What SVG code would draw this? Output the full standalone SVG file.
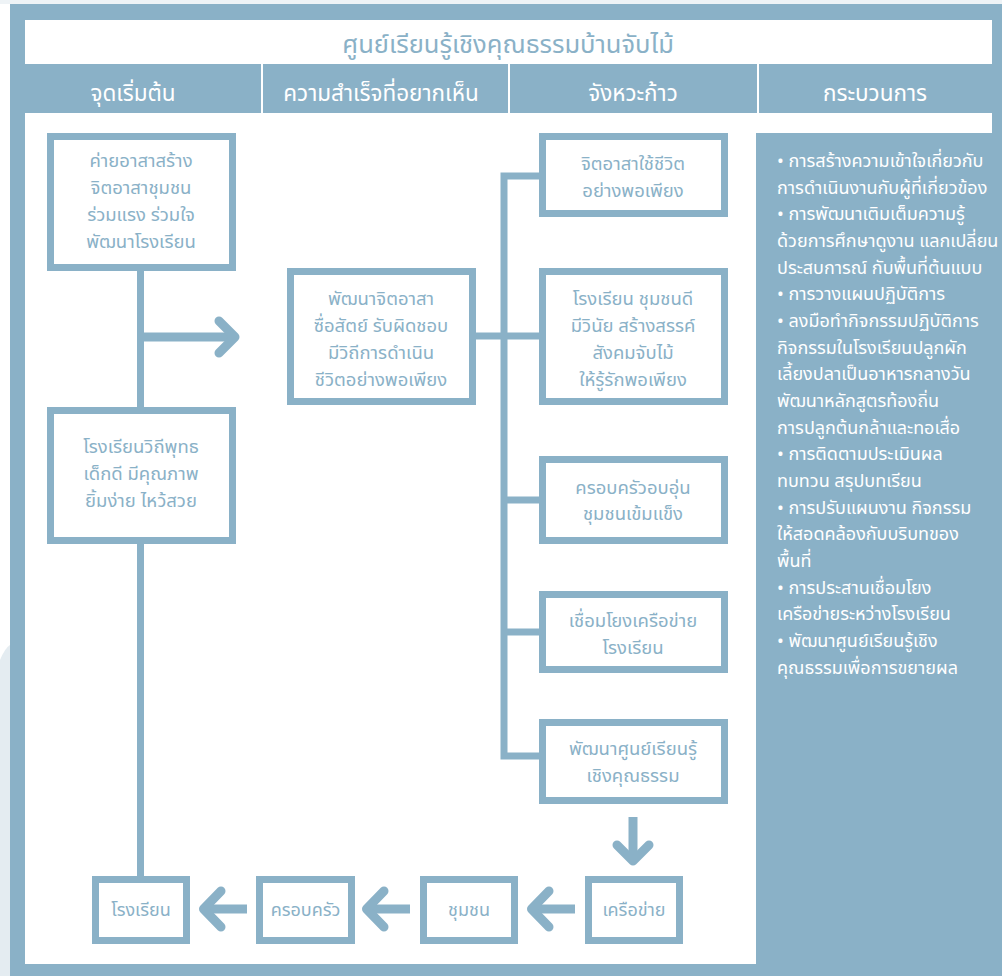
<svg xmlns="http://www.w3.org/2000/svg" width="1002" height="976" viewBox="0 0 1002 976">
<style>
text{font-family:"Noto Sans Thai","Noto Sans","DejaVu Sans",sans-serif}
.box{fill:#ffffff;stroke:#8ab1c7;stroke-width:7}
.bt{fill:#8ab1c7;font-size:18.5px;text-anchor:middle}
.bt2{fill:#8ab1c7;font-size:18px;text-anchor:middle}
.hd{fill:#ffffff;font-size:22.5px;text-anchor:middle}
.pt{fill:#ffffff;font-size:18px}
.ln{fill:none;stroke:#8ab1c7;stroke-width:7}
.ar{fill:none;stroke:#8ab1c7;stroke-width:9;stroke-linecap:round;stroke-linejoin:round}
.al{fill:none;stroke:#8ab1c7;stroke-width:9}
</style>
<rect x="0" y="0" width="1002" height="976" fill="#ffffff"/>
<path d="M0 660 Q5 648 10 645 L10 976 L0 976 Z" fill="#e4ecf1"/>
<rect x="0" y="0" width="1002" height="4" fill="#eef3f6"/>
<g id="frame">
<rect x="10" y="4" width="992" height="972" fill="#8ab1c7"/>
<rect x="25" y="20" width="967" height="44" fill="#ffffff"/>
<rect x="25" y="113" width="967" height="851" fill="#ffffff"/>
<rect x="756" y="133" width="246" height="843" fill="#8ab1c7"/>
<line x1="262" y1="64" x2="262" y2="113" stroke="#ffffff" stroke-width="2"/>
<line x1="509" y1="64" x2="509" y2="113" stroke="#ffffff" stroke-width="2"/>
<line x1="758" y1="64" x2="758" y2="113" stroke="#ffffff" stroke-width="2"/>
<text x="508" y="53" fill="#8ab1c7" font-size="25.5" text-anchor="middle">ศูนย์เรียนรู้เชิงคุณธรรมบ้านจับไม้</text>
<text class="hd" x="133" y="101">จุดเริ่มต้น</text>
<text class="hd" x="381" y="101">ความสำเร็จที่อยากเห็น</text>
<text class="hd" x="633" y="101">จังหวะก้าว</text>
<text class="hd" x="875" y="101">กระบวนการ</text>
</g>
<g id="connectors">
<line class="ln" x1="140.5" y1="271" x2="140.5" y2="407"/>
<line class="ln" x1="140.5" y1="544" x2="140.5" y2="876"/>
<line class="al" x1="140" y1="337" x2="234" y2="337"/>
<path class="ar" d="M219 321 L235 337 L219 353"/>
<line class="ln" x1="476" y1="336" x2="539" y2="336"/>
<polyline class="ln" points="539,176 504,176 504,756 539,756"/>
<line class="ln" x1="504" y1="500" x2="539" y2="500"/>
<line class="ln" x1="504" y1="632" x2="539" y2="632"/>
<line class="al" x1="633" y1="817" x2="633" y2="860"/>
<path class="ar" d="M617 845 L633 861 L649 845"/>
<line class="al" x1="247" y1="909" x2="206" y2="909"/>
<path class="ar" d="M221 891 L203.5 909 L221 927"/>
<line class="al" x1="410" y1="909" x2="369" y2="909"/>
<path class="ar" d="M384 891 L366.5 909 L384 927"/>
<line class="al" x1="575" y1="909" x2="534" y2="909"/>
<path class="ar" d="M549 891 L531.5 909 L549 927"/>
</g>
<g id="node-camp">
<rect class="box" x="50.5" y="136.5" width="182" height="131"/>
<text class="bt" x="141" y="167">ค่ายอาสาสร้าง</text>
<text class="bt" x="141" y="194">จิตอาสาชุมชน</text>
<text class="bt" x="141" y="221">ร่วมแรง ร่วมใจ</text>
<text class="bt" x="141" y="248">พัฒนาโรงเรียน</text>
</g>
<g id="node-buddhist">
<rect class="box" x="50.5" y="410.5" width="182" height="130"/>
<text class="bt" x="141" y="453">โรงเรียนวิถีพุทธ</text>
<text class="bt" x="141" y="480">เด็กดี มีคุณภาพ</text>
<text class="bt" x="141" y="507">ยิ้มง่าย ไหว้สวย</text>
</g>
<g id="node-success">
<rect class="box" x="290.5" y="271.5" width="182" height="130"/>
<text class="bt" x="381" y="305">พัฒนาจิตอาสา</text>
<text class="bt" x="381" y="332">ซื่อสัตย์ รับผิดชอบ</text>
<text class="bt" x="381" y="359">มีวิถีการดำเนิน</text>
<text class="bt" x="381" y="386">ชีวิตอย่างพอเพียง</text>
</g>
<g id="node-step1">
<rect class="box" x="542.5" y="136.5" width="182" height="77"/>
<text class="bt" x="633" y="170">จิตอาสาใช้ชีวิต</text>
<text class="bt" x="633" y="197">อย่างพอเพียง</text>
</g>
<g id="node-step2">
<rect class="box" x="542.5" y="271.5" width="182" height="130"/>
<text class="bt" x="633" y="305">โรงเรียน ชุมชนดี</text>
<text class="bt" x="633" y="332">มีวินัย สร้างสรรค์</text>
<text class="bt" x="633" y="359">สังคมจับไม้</text>
<text class="bt" x="633" y="386">ให้รู้รักพอเพียง</text>
</g>
<g id="node-step3">
<rect class="box" x="542.5" y="459.5" width="182" height="81"/>
<text class="bt" x="633" y="494">ครอบครัวอบอุ่น</text>
<text class="bt" x="633" y="520">ชุมชนเข้มแข็ง</text>
</g>
<g id="node-step4">
<rect class="box" x="542.5" y="594.5" width="182" height="75"/>
<text class="bt" x="633" y="627">เชื่อมโยงเครือข่าย</text>
<text class="bt" x="633" y="654">โรงเรียน</text>
</g>
<g id="node-step5">
<rect class="box" x="542.5" y="722.5" width="182" height="78"/>
<text class="bt" x="633" y="755">พัฒนาศูนย์เรียนรู้</text>
<text class="bt" x="633" y="782">เชิงคุณธรรม</text>
</g>
<g id="node-school">
<rect class="box" x="95.5" y="879.5" width="91" height="61"/>
<text class="bt2" x="141" y="916">โรงเรียน</text>
</g>
<g id="node-family">
<rect class="box" x="259.5" y="879.5" width="92" height="61"/>
<text class="bt2" x="305.5" y="916">ครอบครัว</text>
</g>
<g id="node-community">
<rect class="box" x="423.5" y="879.5" width="91" height="61"/>
<text class="bt2" x="469" y="916">ชุมชน</text>
</g>
<g id="node-network">
<rect class="box" x="588.5" y="879.5" width="91" height="61"/>
<text class="bt2" x="634" y="916">เครือข่าย</text>
</g>
<g id="node-process">
<text class="pt" x="777" y="167">• การสร้างความเข้าใจเกี่ยวกับ</text>
<text class="pt" x="777" y="194">การดำเนินงานกับผู้ที่เกี่ยวข้อง</text>
<text class="pt" x="777" y="220">• การพัฒนาเติมเต็มความรู้</text>
<text class="pt" x="777" y="247">ด้วยการศึกษาดูงาน แลกเปลี่ยน</text>
<text class="pt" x="777" y="274">ประสบการณ์ กับพื้นที่ต้นแบบ</text>
<text class="pt" x="777" y="300">• การวางแผนปฏิบัติการ</text>
<text class="pt" x="777" y="327">• ลงมือทำกิจกรรมปฏิบัติการ</text>
<text class="pt" x="777" y="354">กิจกรรมในโรงเรียนปลูกผัก</text>
<text class="pt" x="777" y="380">เลี้ยงปลาเป็นอาหารกลางวัน</text>
<text class="pt" x="777" y="407">พัฒนาหลักสูตรท้องถิ่น</text>
<text class="pt" x="777" y="434">การปลูกต้นกล้าและทอเสื่อ</text>
<text class="pt" x="777" y="460">• การติดตามประเมินผล</text>
<text class="pt" x="777" y="487">ทบทวน สรุปบทเรียน</text>
<text class="pt" x="777" y="514">• การปรับแผนงาน กิจกรรม</text>
<text class="pt" x="777" y="540">ให้สอดคล้องกับบริบทของ</text>
<text class="pt" x="777" y="567">พื้นที่</text>
<text class="pt" x="777" y="594">• การประสานเชื่อมโยง</text>
<text class="pt" x="777" y="620">เครือข่ายระหว่างโรงเรียน</text>
<text class="pt" x="777" y="647">• พัฒนาศูนย์เรียนรู้เชิง</text>
<text class="pt" x="777" y="674">คุณธรรมเพื่อการขยายผล</text>
</g>
</svg>
